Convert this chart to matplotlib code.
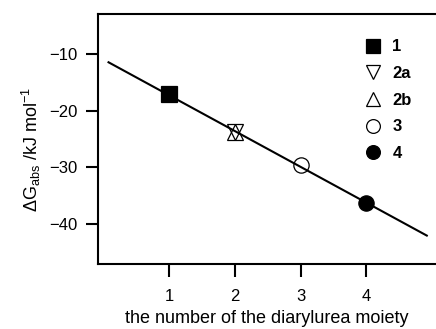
import matplotlib
matplotlib.use('Agg')
import matplotlib.pyplot as plt

plt.rcParams['font.family'] = ['Liberation Sans', 'DejaVu Sans']
plt.rcParams['mathtext.fontset'] = 'custom'
plt.rcParams['mathtext.rm'] = 'Liberation Sans'
plt.rcParams['mathtext.it'] = 'Liberation Sans'
plt.rcParams['mathtext.bf'] = 'Liberation Sans:bold'

# compounds and binding free energies (kJ/mol)
labels = ['1', '2a', '2b', '3', '4']
n_urea = [1, 2, 2, 3, 4]
dG = [-17.0, -23.8, -23.8, -29.6, -36.2]
markers = ['s', 'v', '^', 'o', 'o']
filled = [True, False, False, False, True]

# fitted line end points
fit_x = [0.08, 4.92]
fit_y = [-11.5, -42.0]

xticks = [1, 2, 3, 4]
yticks = [-10, -20, -30, -40]

fig = plt.figure(figsize=(4.36, 3.29), dpi=100)
ax = fig.add_axes([0.2248, 0.1976, 0.7752, 0.7599])

ax.plot(fit_x, fit_y, color='black', lw=1.5, zorder=2)

handles = []
for i in range(len(labels)):
    fc = 'black' if filled[i] else 'none'
    h, = ax.plot([n_urea[i]], [dG[i]], linestyle='none', marker=markers[i],
                 markersize=11, markerfacecolor=fc, markeredgecolor='black',
                 markeredgewidth=0.9, zorder=3, label=labels[i])
    handles.append(h)

ax.set_xlim(-0.08, 5.06)
ax.set_ylim(-47, -3)
ax.set_xticks(xticks)
ax.set_yticks(yticks)
ax.set_yticklabels(['\u2212' + str(abs(v)) for v in yticks])
ax.tick_params(direction='out', length=9, width=1.5, labelsize=12)
ax.tick_params(axis='x', pad=9)
ax.tick_params(axis='y', pad=6)

for s in ['left', 'bottom', 'top']:
    ax.spines[s].set_linewidth(1.5)
ax.spines['right'].set_visible(False)

ax.set_xlabel('the number of the diarylurea moiety', fontsize=13, labelpad=4)
ax.set_ylabel(r'$\Delta$G$_{\rm abs}$ /kJ mol$^{-1}$', fontsize=13)
ax.yaxis.set_label_coords(-0.163, 0.456)

leg = ax.legend(handles=handles, loc='upper left', bbox_to_anchor=(0.77, 0.925),
                frameon=False, handlelength=1.0, handletextpad=0.65,
                labelspacing=0.7, prop={'weight': 'bold', 'size': 12},
                borderaxespad=0, markerscale=0.9)

fig.savefig('out.png', dpi=100)
